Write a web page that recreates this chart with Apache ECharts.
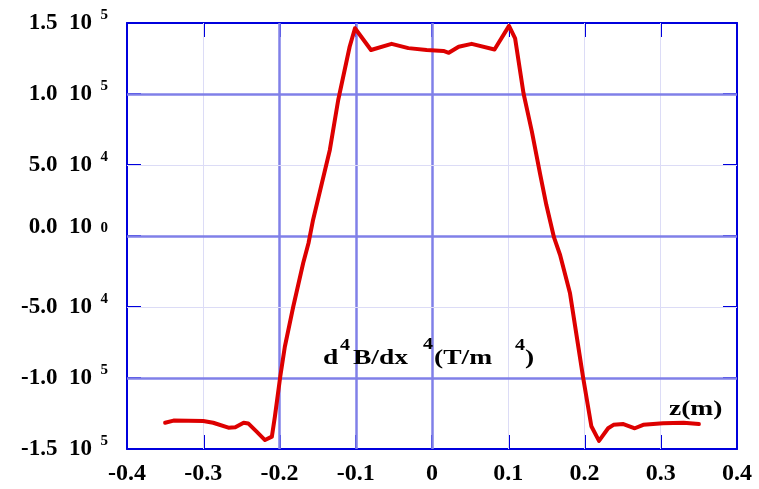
<!DOCTYPE html>
<html>
<head>
<meta charset="utf-8">
<script src="https://cdn.jsdelivr.net/npm/echarts@6/dist/echarts.min.js"></script>
<style>html,body{margin:0;padding:0;background:#fff;}#c{width:759px;height:489px;}</style>
</head>
<body>
<div id="c"></div>
<script>
// z positions (m)
const zVals = [-0.350,-0.339,-0.300,-0.287,-0.267,-0.258,-0.247,-0.241,-0.230,-0.219,-0.210,-0.206,-0.199,-0.193,-0.182,-0.169,-0.162,-0.156,-0.134,-0.123,-0.108,-0.101,-0.080,-0.053,-0.031,-0.007,0.015,0.022,0.035,0.052,0.082,0.101,0.109,0.120,0.131,0.142,0.150,0.160,0.168,0.181,0.198,0.209,0.219,0.231,0.238,0.251,0.266,0.277,0.303,0.330,0.350];
// d4B/dx4 (T/m^4)
const dVals = [-131500,-130000,-130300,-131500,-135000,-134700,-131500,-132000,-137800,-143700,-141300,-127000,-99000,-78000,-49800,-19200,-5100,11300,60600,95800,133300,146300,131000,135300,132300,131000,130300,129000,133300,135300,131300,148000,139200,100500,73500,43000,21800,-1000,-13400,-40400,-99000,-134000,-144300,-135400,-133000,-132400,-135400,-133000,-131900,-131500,-132400];
const xTickLabels = ['-0.4','-0.3','-0.2','-0.1','0','0.1','0.2','0.3','0.4'];
const yMant = ['-1.5','-1.0','-5.0','0.0','5.0','1.0','1.5'];
const yExp = ['5','5','4','0','4','5','5'];
const majorX = [-0.2,-0.1,0];
const minorX = [-0.3,0.1,0.2,0.3];
const majorY = [-100000,0,100000];
const minorY = [-50000,50000];

const AX = '#0000dd', MAJ = '#8080e8', MIN = '#dcdcf6', RED = '#dd0000';
const FF = 'Liberation Serif';

const gridLines = [];
majorX.forEach(v => gridLines.push({xAxis: v, lineStyle: {color: MAJ, width: 2.5, type: 'solid'}}));
minorX.forEach(v => gridLines.push({xAxis: v, lineStyle: {color: MIN, width: 1, type: 'solid'}}));
majorY.forEach(v => gridLines.push({yAxis: v, lineStyle: {color: MAJ, width: 2.5, type: 'solid'}}));
minorY.forEach(v => gridLines.push({yAxis: v, lineStyle: {color: MIN, width: 1, type: 'solid'}}));

const tickCommon = {show: true, inside: true, length: 14, lineStyle: {color: AX, width: 2}};
const lineCommon = {show: true, onZero: false, lineStyle: {color: AX, width: 2}};
const yIdx = v => Math.round(v / 50000) + 3;

const chart = echarts.init(document.getElementById('c'), null, {renderer: 'canvas'});
const annStyle = (txt, x, y, size) => ({
  type: 'text', x: x, y: y, scaleX: 1.25, z: 10,
  style: {text: txt, fill: '#000', font: 'bold ' + size + 'px "Liberation Serif"', verticalAlign: 'middle', align: 'left'}
});
const yBase = {type: 'value', min: -150000, max: 150000, interval: 50000, splitLine: {show: false}};
chart.setOption({
  animation: false,
  backgroundColor: '#fff',
  grid: {left: 127, right: 22, top: 23, bottom: 40, containLabel: false},
  xAxis: [{
    type: 'value', min: -0.4, max: 0.4, interval: 0.1, position: 'bottom',
    axisLine: lineCommon, axisTick: tickCommon, splitLine: {show: false},
    axisLabel: {margin: 13, color: '#000', fontFamily: FF, fontWeight: 'bold', fontSize: 24,
      formatter: v => xTickLabels[Math.round(v * 10) + 4]}
  }, {
    type: 'value', min: -0.4, max: 0.4, interval: 0.1, position: 'top',
    axisLine: lineCommon, axisTick: tickCommon, splitLine: {show: false}, axisLabel: {show: false}
  }],
  yAxis: [
    Object.assign({}, yBase, {
      position: 'left', axisLine: lineCommon, axisTick: tickCommon,
      axisLabel: {margin: 35, color: '#000', fontFamily: FF, fontWeight: 'bold', fontSize: 23, lineHeight: 17,
        formatter: v => { const i = yIdx(v); return yMant[i] + '  10' + (i === 3 ? '\n' : ''); }}
    }),
    Object.assign({}, yBase, {
      position: 'right', axisLine: lineCommon, axisTick: tickCommon, axisLabel: {show: false}
    }),
    Object.assign({}, yBase, {
      position: 'left', offset: 0, axisLine: {show: false}, axisTick: {show: false},
      axisLabel: {margin: 19, color: '#000', fontFamily: FF, fontWeight: 'bold', fontSize: 15, lineHeight: 16,
        formatter: v => yExp[yIdx(v)] + '\n'}
    })
  ],
  series: [{
    type: 'line', data: [], z: 1, silent: true,
    markLine: {silent: true, symbol: ['none', 'none'], label: {show: false}, animation: false,
      lineStyle: {type: 'solid'}, data: gridLines}
  }, {
    type: 'line', z: 5, showSymbol: false, smooth: false, silent: true,
    data: zVals.map((z, i) => [z, dVals[i]]),
    lineStyle: {color: RED, width: 4, join: 'round', cap: 'round'}
  }],
  graphic: [
    annStyle('d', 323, 358, 22),
    annStyle('4', 340, 346, 16),
    annStyle('B/dx', 353, 358, 22),
    annStyle('4', 423, 345, 16),
    annStyle('(T/m', 434, 358, 22),
    annStyle('4', 515, 346, 16),
    annStyle(')', 525, 358, 22),
    annStyle('z(m)', 669, 409, 22)
  ]
});
</script>
</body>
</html>
